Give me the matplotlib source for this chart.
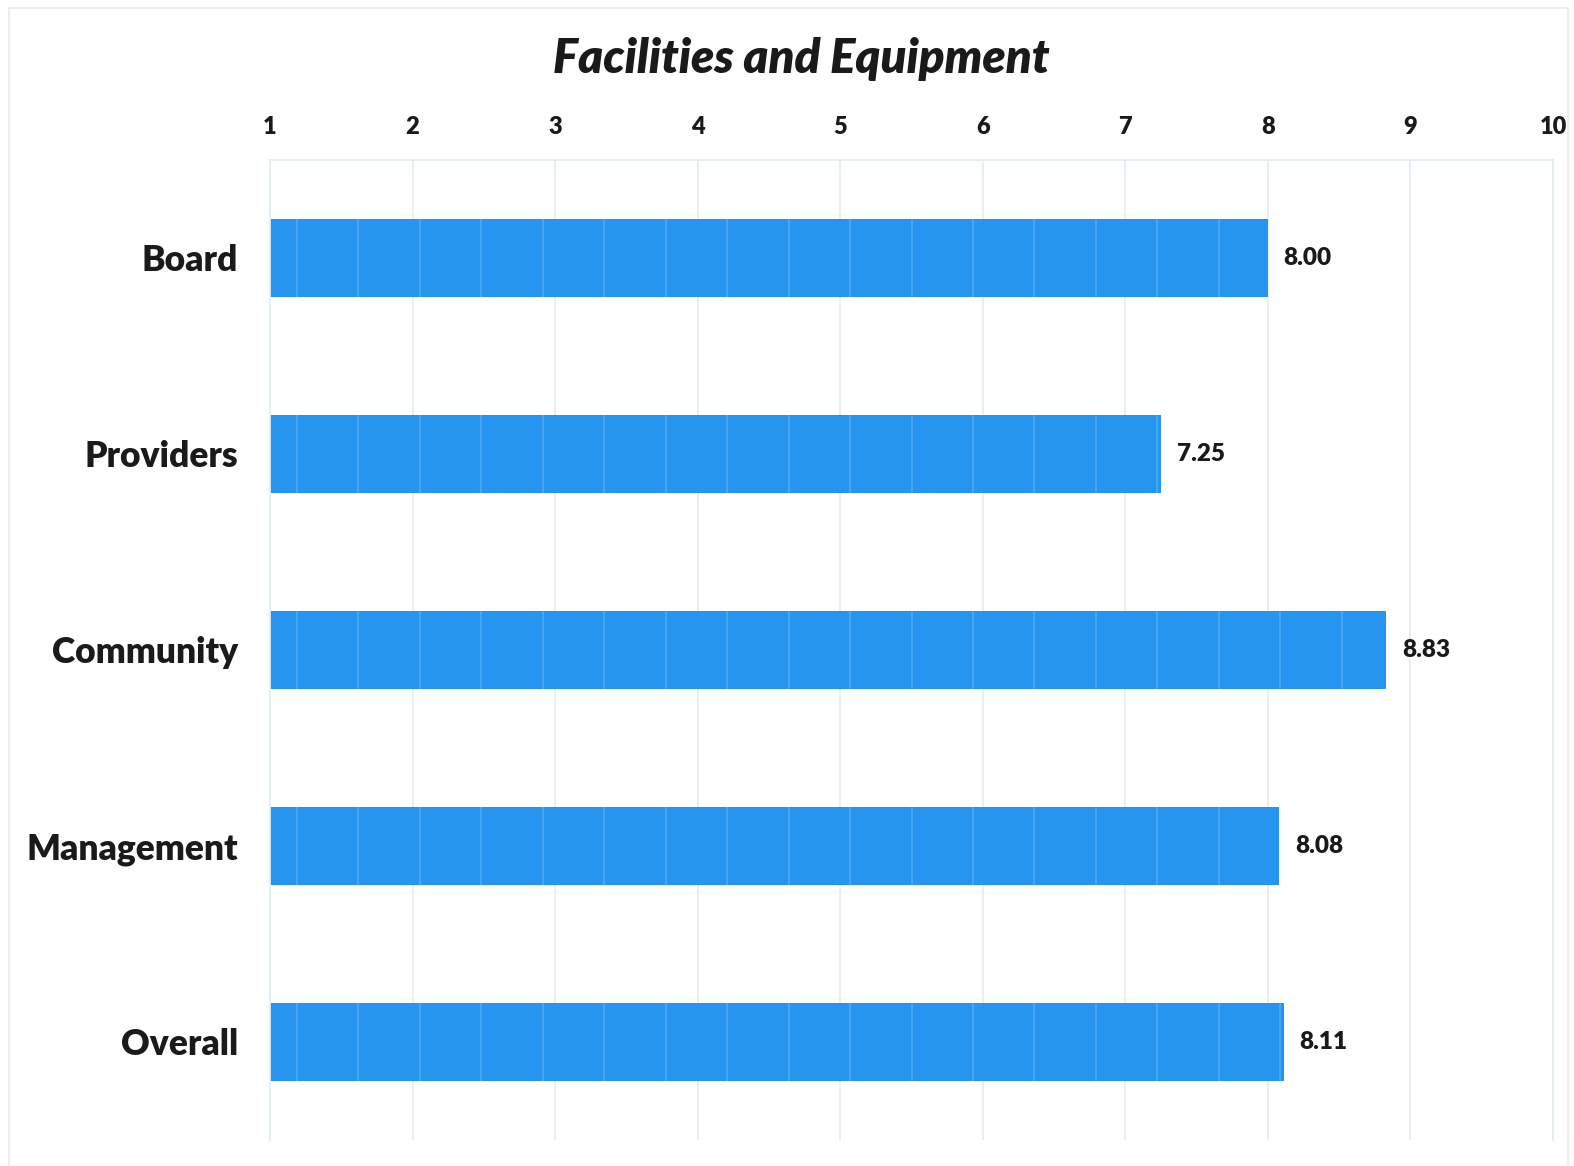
import matplotlib.pyplot as plt
from matplotlib.patches import Rectangle
import numpy as np

# survey scores, one bar per group
groups = ["Board", "Providers", "Community", "Management", "Overall"]
scores = [8.00, 7.25, 8.83, 8.08, 8.11]
ticks = [1, 2, 3, 4, 5, 6, 7, 8, 9, 10]

bar_col = "#2595EF"
grid_col = "#E4EEF0"
font = ["Lato", "DejaVu Sans"]

fig = plt.figure(figsize=(15.74, 11.66), dpi=100)
fig.patches.append(Rectangle((0.006, -0.01), 0.99, 1.003, transform=fig.transFigure,
                             fill=False, edgecolor="#E2EEEC", linewidth=1.2))

ax = fig.add_axes([0.1715, 0.0223, 0.8152, 0.8405])
y = np.arange(len(groups))
h = 0.4
bars = ax.barh(y, [s - 1 for s in scores], left=1, height=h, color=bar_col, zorder=2)

# faint vertical stripes inside each bar (pattern fill)
step = 0.431
for yi, s in zip(y, scores):
    xs = np.arange(1.19, s, step)
    ax.vlines(xs, yi - h / 2, yi + h / 2, color="#5AB0F5", linewidth=1.3, alpha=0.7, zorder=3)

for yi, s in zip(y, scores):
    ax.text(s + 0.11, yi, f"{s:.2f}", va="center", ha="left", fontsize=17.5,
            fontweight="heavy", family=font, color="#1a1a1a")

ax.set_xlim(1, 10)
ax.set_ylim(len(groups) - 0.5, -0.5)
ax.set_xticks(ticks)
ax.xaxis.tick_top()
ax.tick_params(axis="x", length=0, pad=16, labelsize=17, labelcolor="#1a1a1a")
ax.tick_params(axis="y", length=0, pad=23, labelsize=25.5, labelcolor="#1a1a1a")
ax.set_yticks(y)
ax.set_yticklabels(groups)
for lab in ax.get_xticklabels() + ax.get_yticklabels():
    lab.set_fontweight("heavy")
    lab.set_family(font)

ax.grid(axis="x", color=grid_col, linewidth=1.3, zorder=0)
ax.set_axisbelow(True)
for side in ["top", "left", "right"]:
    ax.spines[side].set_color(grid_col)
    ax.spines[side].set_linewidth(1.3)
ax.spines["bottom"].set_visible(False)

fig.text(0.509, 0.949, "Facilities and Equipment", ha="center", va="center",
         fontsize=34, fontweight="heavy", fontstyle="italic", family=font, color="#1a1a1a")

fig.savefig("out.png", dpi=100, facecolor="white")
